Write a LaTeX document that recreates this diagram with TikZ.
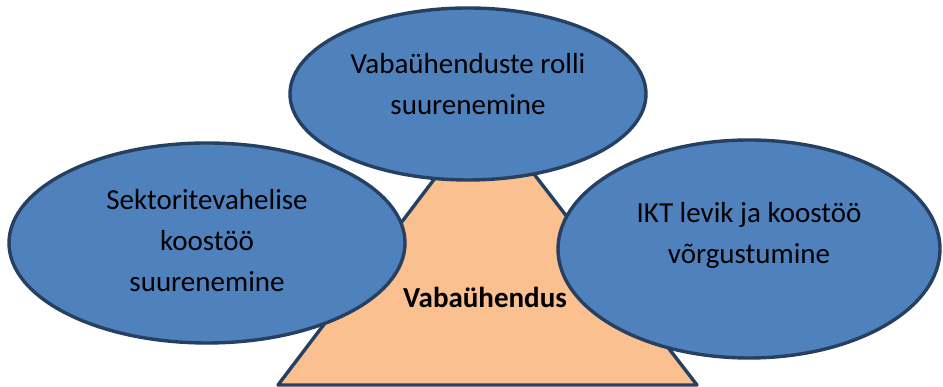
\documentclass[tikz,border=0pt]{standalone}
\usepackage{fontspec}
\setmainfont{Carlito}
\usetikzlibrary{shapes.geometric, positioning}
\definecolor{blue1}{RGB}{79,129,189}
\definecolor{navy1}{RGB}{38,64,98}
\definecolor{peach1}{RGB}{250,192,144}
\begin{document}
\begin{tikzpicture}[x=1pt, y=1pt,
    bubble/.style={draw=navy1, fill=blue1, line width=3.4pt, shape=ellipse, inner sep=0pt},
    bubbletext/.style={align=center, font=\fontsize{29}{41}\selectfont, text=black},
    basetext/.style={font=\fontsize{29}{35}\selectfont\bfseries, text=black}
]
    \useasboundingbox (0,0) rectangle (943,387);

    % trapezoid underneath
    \coordinate (bl) at (278,2);
    \coordinate (br) at (697,2);
    \coordinate (tr) at (527,222);
    \coordinate (tl) at (445,222);
    \filldraw[draw=navy1, fill=peach1, line width=3.4pt, line join=round] (bl) -- (br) -- (tr) -- (tl) -- cycle;
    \node[basetext, name=base] at(485,90) {Vabaühendus};

    % three ellipses
    \node[bubble, minimum width=356pt, minimum height=172pt, name=top] at(468,293) {};
    \node[bubble, minimum width=396pt, minimum height=200pt, name=left] at(207,144) {};
    \node[bubble, minimum width=382pt, minimum height=218pt, name=right] at(749,138) {};

    \node[bubbletext, name=toptext] at([yshift=10pt]top.center) {Vabaühenduste rolli\\suurenemine};
    \node[bubbletext, name=lefttext] at([yshift=2pt]left.center) {Sektoritevahelise\\koostöö\\suurenemine};
    \node[bubbletext, name=righttext] at([yshift=14pt]right.center) {IKT levik ja koostöö\\võrgustumine};
\end{tikzpicture}
\end{document}
